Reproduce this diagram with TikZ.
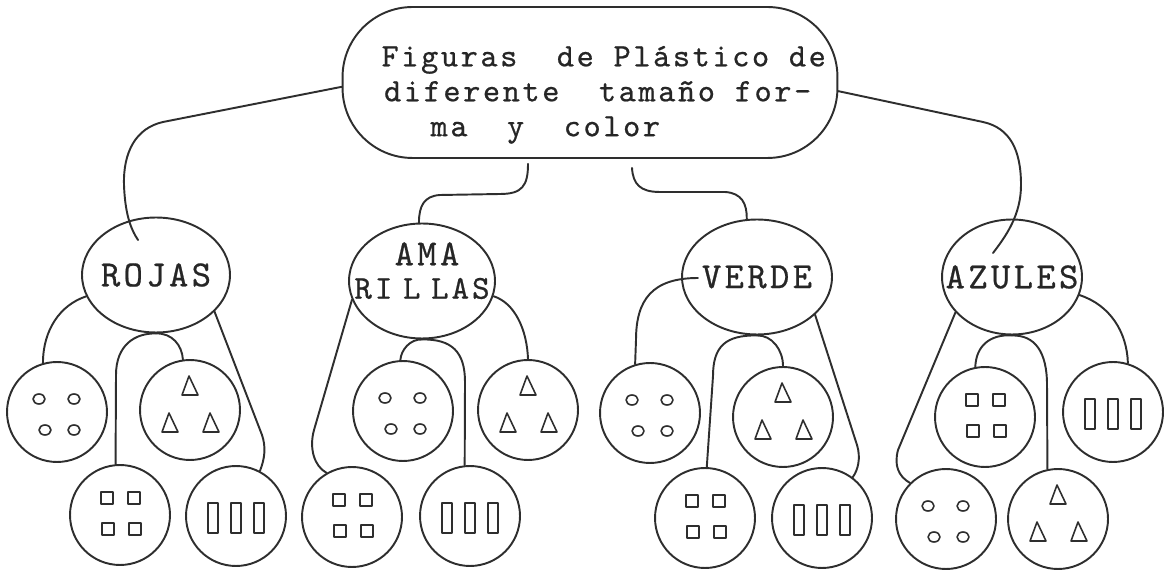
\documentclass[tikz,border=0pt]{standalone}
\usepackage{fontspec}
\usetikzlibrary{shapes.geometric,calc}
% typewriter faces, slightly spaced out and thickened
\newfontfamily\toptype[LetterSpace=8, FakeBold=0.6]{lmmono10-regular.otf}
\newfontfamily\labtype[LetterSpace=9, FakeBold=0.6]{lmmono10-regular.otf}

\tikzset{
  ink/.style={draw=black!82, line width=1.1pt},
  link/.style={ink, line cap=round},
  kind/.style={ellipse, ink, inner sep=-14pt, minimum width=#1, minimum height=2.3cm,
    align=center, text=black!85, font=\labtype\fontsize{21}{19}\selectfont},
  leaf/.style={circle, ink, minimum size=2cm, inner sep=0pt},
  glyph/.style={draw=black!82, line width=0.9pt, line join=round},
  pics/fourdots/.style={code={
    \foreach \p in {(-18,-13),(17,-13),(-12,18),(17,18)}
      \draw[glyph] \p circle[x radius=0.12cm, y radius=0.1cm];
  }},
  pics/threetri/.style={code={
    \foreach \p in {(0,-24),(-20,13),(21,13)}
      \draw[glyph, shift={\p}] (-8,9) -- (8,9) -- (-1,-10) -- cycle;
  }},
  pics/foursq/.style={code={
    \foreach \p in {(-13,-17),(14,-17),(-12,14),(15,14)}
      \draw[glyph, shift={\p}] (-6,-6) rectangle (6,6);
  }},
  pics/threebar/.style={code={
    \foreach \p in {(-23,2),(0,2),(23,2)}
      \draw[glyph, shift={\p}] (-5,-15) rectangle (5,15);
  }},
}

\begin{document}
\begin{tikzpicture}[x=0.02cm, y=-0.02cm]
\path[use as bounding box] (0,0) rectangle (1165,573);

% root (the strut and the left indent set the text a little low and to the right)
\node[ink, rounded corners=1.4cm, minimum width=9.9cm, minimum height=3.02cm,
      align=left, text=black!85, font=\toptype\fontsize{18.6}{19.9}\selectfont]
  (top) at (590,82.5)
  {\rule{0pt}{0.9cm}\hspace*{0.55cm}Figuras\ \ de Plástico de\\
   \hspace*{0.6cm}diferente\ \ tamaño for-\\
   \hspace*{0.55cm}\hspace*{1.5em}ma\ \ y\ \ color};

% colour groups
\node[kind=2.96cm] (rojas) at (156,275) {ROJAS};
\node[kind=2.92cm] (amar)  at (422,281)
  {\hspace*{0.2cm}AMA\\{\fontsize{19}{19}\selectfont RI\kern6pt L\kern6pt LAS}\rule[-0.42cm]{0pt}{0.42cm}};
\node[kind=3.0cm]  (verde) at (757,277) {VERDE};
\node[kind=2.8cm]  (azul)  at (1012,277) {AZULES};

% shape sets
\node[leaf] (r1) at (57,412)  {}; \pic at (r1) {fourdots};
\node[leaf] (r2) at (190,410) {}; \pic at (r2) {threetri};
\node[leaf] (r3) at (120,515) {}; \pic at (r3) {foursq};
\node[leaf] (r4) at (236,516) {}; \pic at (r4) {threebar};

\node[leaf] (a1) at (403,411) {}; \pic at (a1) {fourdots};
\node[leaf] (a2) at (528,410) {}; \pic at (a2) {threetri};
\node[leaf] (a3) at (352,517) {}; \pic at (a3) {foursq};
\node[leaf] (a4) at (470,516) {}; \pic at (a4) {threebar};

\node[leaf] (v1) at (650,413) {}; \pic at (v1) {fourdots};
\node[leaf] (v2) at (783,417) {}; \pic at (v2) {threetri};
\node[leaf] (v3) at (705,518) {}; \pic at (v3) {foursq};
\node[leaf] (v4) at (822,518) {}; \pic at (v4) {threebar};

\node[leaf] (z1) at (985,417)  {}; \pic at (z1) {foursq};
\node[leaf] (z2) at (1113,412) {}; \pic at (z2) {threebar};
\node[leaf] (z3) at (946,519)  {}; \pic at (z3) {fourdots};
\node[leaf] (z4) at (1058,519) {}; \pic at (z4) {threetri};

% root to groups
\draw[link] (top.181) -- (163,122) .. controls (136,128) and (123,152) .. (124,185)
  .. controls (125,212) and (130,228) .. ($(rojas.center)+(-18,-35)$);
\draw[link] ($(top.south)+(-62,5)$) .. controls (528,186) and (522,194) .. (500,194)
  -- (440,195) .. controls (424,196) and (419,206) .. (amar.93);
\draw[link] ($(top.south)+(42,9)$) .. controls (633,184) and (640,192) .. (660,192)
  -- (725,192) .. controls (742,193) and (747,204) .. (verde.100);
\draw[link] (top.358) -- (983,122) .. controls (1010,128) and (1021,150) .. (1021,185)
  .. controls (1021,215) and (1006,236) .. ($(azul.center)+(-19,-24)$);

% ROJAS
\draw[link] (rojas.197) .. controls (60,305) and (43,330) .. (r1.106);
\draw[link] (rojas.south) .. controls (135,333) and (116,345) .. (116,375) -- (r3.95);
\draw[link] (rojas.south) .. controls (172,333) and (182,345) .. (r2.98);
\draw[link] (rojas.328) -- (262,435) .. controls (266,447) and (265,458) .. (r4.62);

% AMARILLAS
\draw[link] (amar.195) -- (314,430) .. controls (309,448) and (314,466) .. (a3.120);
\draw[link] (amar.south) .. controls (410,339) and (401,350) .. (a1.93);
\draw[link] (amar.south) .. controls (452,339) and (465,352) .. (465,382) -- (a4.96);
\draw[link] (amar.348) .. controls (515,303) and (527,330) .. (a2.north);

% VERDE
\draw[link] ($(verde.center)+(-59,1)$) .. controls (652,278) and (636,300) .. (636,340) -- (v1.107);
\draw[link] (verde.south) .. controls (726,335) and (713,346) .. (713,376) -- (v3.88);
\draw[link] (verde.south) .. controls (772,335) and (783,350) .. (v2.north);
\draw[link] (verde.327) -- (857,445) .. controls (861,458) and (858,470) .. (v4.53);

% AZULES
\draw[link] (azul.212) -- (898,450) .. controls (894,465) and (898,476) .. (z3.135);
\draw[link] (azul.south) .. controls (990,334) and (976,346) .. (z1.101);
\draw[link] (azul.south) .. controls (1035,335) and (1047,352) .. (1047,385) -- (z4.102);
\draw[link] (azul.345) .. controls (1110,305) and (1127,332) .. (z2.73);
\end{tikzpicture}
\end{document}
